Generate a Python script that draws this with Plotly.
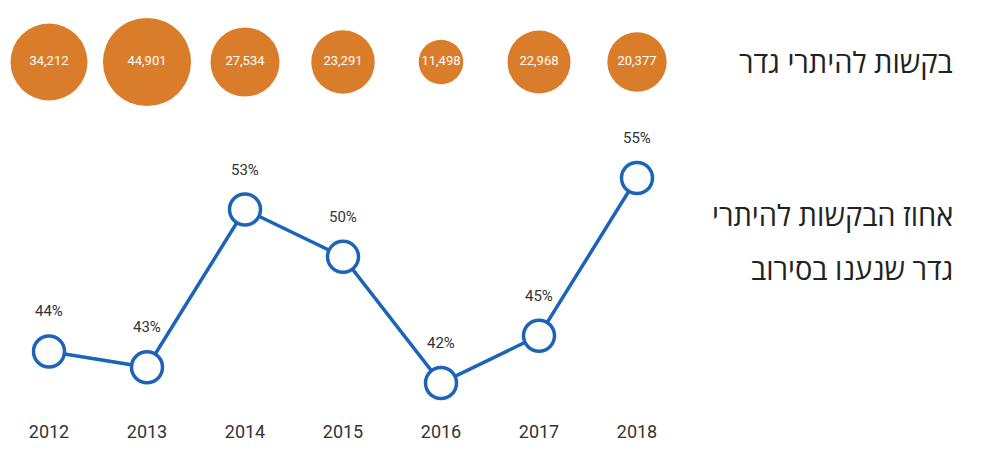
import plotly.graph_objects as go

years = [2012, 2013, 2014, 2015, 2016, 2017, 2018]
requests = [34212, 44901, 27534, 23291, 11498, 22968, 20377]
refused_pct = [44, 43, 53, 50, 42, 45, 55]

title_requests = "בקשות להיתרי גדר"
title_pct_1 = "אחוז הבקשות להיתרי"
title_pct_2 = "גדר שנענו בסירוב"

orange = "#DA7D2B"
blue = "#1C64B8"
narrow = "Roboto, Arial"
heb = "Open Sans, DejaVu Sans"

# page body adds an 8px margin, so the figure is a bit smaller than the window
fig_w, fig_h = 984, 458
plot_h = 403

fig = go.Figure()

# bubbles - area proportional to number of requests
fig.add_trace(
    go.Scatter(
        x=years,
        y=[0.5] * len(years),
        yaxis="y2",
        mode="markers+text",
        marker=dict(
            size=requests,
            sizemode="area",
            sizeref=11.56,
            color=orange,
            opacity=1,
            line=dict(width=0),
        ),
        text=[f"{v:,}" for v in requests],
        textposition="middle center",
        textfont=dict(color="white", size=13, family=narrow),
        hoverinfo="skip",
    )
)

# refusal percentage line
fig.add_trace(
    go.Scatter(
        x=years,
        y=refused_pct,
        mode="lines+markers",
        line=dict(color=blue, width=3.5),
        marker=dict(size=31, color="white", line=dict(color=blue, width=3.5)),
        hoverinfo="skip",
    )
)

for yr, p in zip(years, refused_pct):
    fig.add_annotation(
        x=yr,
        y=p,
        text=f"{p}%",
        showarrow=False,
        yshift=40,
        font=dict(size=15, color="#333333", family=narrow),
    )

for txt, ypx in [(title_requests, 54), (title_pct_1, 207), (title_pct_2, 260)]:
    fig.add_annotation(
        xref="paper", yref="paper", x=947 / fig_w, y=1 - ypx / plot_h,
        text=txt, showarrow=False, xanchor="right", yanchor="middle",
        font=dict(size=29, color="#222222", family=heb),
    )

fig.update_layout(
    width=fig_w,
    height=fig_h,
    margin=dict(l=0, r=0, t=0, b=fig_h - plot_h),
    paper_bgcolor="white",
    plot_bgcolor="white",
    showlegend=False,
    xaxis=dict(
        range=[2012 - 41 / 98, 2012 - 41 / 98 + fig_w / 98],
        tickvals=years,
        ticktext=[str(y) for y in years],
        showgrid=False,
        zeroline=False,
        showline=False,
        ticks="",
        ticklabelstandoff=8,
        tickfont=dict(size=18, color="#333333", family=narrow),
    ),
    yaxis=dict(
        range=[42 - (plot_h - 375) / 15.77, 55 + 170 / 15.77],
        visible=False,
    ),
    yaxis2=dict(
        domain=[1 - 108 / plot_h, 1],
        range=[0, 1],
        visible=False,
    ),
)

fig.write_html("out.html")
